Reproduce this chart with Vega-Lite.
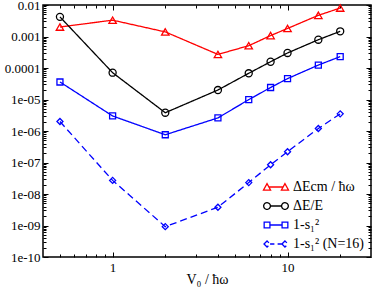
{
  "$schema": "https://vega.github.io/schema/vega-lite/v6.json",
  "width": 328,
  "height": 252,
  "autosize": {"type": "none"},
  "padding": {"left": 43, "top": 5, "right": 3, "bottom": 34},
  "config": {
    "font": "Liberation Serif",
    "view": {"stroke": "black", "strokeWidth": 1.5},
    "axis": {
      "domain": false, "grid": false, "ticks": true, "tickColor": "black", "tickWidth": 1,
      "labelFont": "Liberation Serif", "labelFontSize": 13, "labelColor": "black",
      "titleFont": "Liberation Serif", "titleFontSize": 14, "titleFontWeight": "normal", "titleColor": "black",
      "labelOverlap": false, "labelFlush": false, "labelBound": false
    },
    "legend": {
      "labelFont": "Liberation Serif", "labelFontSize": 14, "labelColor": "black",
      "symbolSize": 256, "symbolStrokeWidth": 1.3, "rowPadding": 3, "labelOffset": 8,
      "padding": 0
    }
  },
  "data": {"values": [
    {"x": 0.5, "y": 2.0e-3, "s": "ΔEcm / ħω"},
    {"x": 1, "y": 3.3e-3, "s": "ΔEcm / ħω"},
    {"x": 2, "y": 1.4e-3, "s": "ΔEcm / ħω"},
    {"x": 4, "y": 2.7e-4, "s": "ΔEcm / ħω"},
    {"x": 6, "y": 5.1e-4, "s": "ΔEcm / ħω"},
    {"x": 8, "y": 1.07e-3, "s": "ΔEcm / ħω"},
    {"x": 10, "y": 1.8e-3, "s": "ΔEcm / ħω"},
    {"x": 15, "y": 4.7e-3, "s": "ΔEcm / ħω"},
    {"x": 20, "y": 8.0e-3, "s": "ΔEcm / ħω"},
    {"x": 0.5, "y": 4.2e-3, "s": "ΔE/E"},
    {"x": 1, "y": 7.1e-5, "s": "ΔE/E"},
    {"x": 2, "y": 3.8e-6, "s": "ΔE/E"},
    {"x": 4, "y": 2.0e-5, "s": "ΔE/E"},
    {"x": 6, "y": 6.8e-5, "s": "ΔE/E"},
    {"x": 8, "y": 1.58e-4, "s": "ΔE/E"},
    {"x": 10, "y": 3.0e-4, "s": "ΔE/E"},
    {"x": 15, "y": 7.9e-4, "s": "ΔE/E"},
    {"x": 20, "y": 1.46e-3, "s": "ΔE/E"},
    {"x": 0.5, "y": 3.6e-5, "s": "1-s₁²"},
    {"x": 1, "y": 3.0e-6, "s": "1-s₁²"},
    {"x": 2, "y": 7.6e-7, "s": "1-s₁²"},
    {"x": 4, "y": 2.6e-6, "s": "1-s₁²"},
    {"x": 6, "y": 9.9e-6, "s": "1-s₁²"},
    {"x": 8, "y": 2.4e-5, "s": "1-s₁²"},
    {"x": 10, "y": 4.6e-5, "s": "1-s₁²"},
    {"x": 15, "y": 1.24e-4, "s": "1-s₁²"},
    {"x": 20, "y": 2.3e-4, "s": "1-s₁²"},
    {"x": 0.5, "y": 2.0e-6, "s": "1-s₁² (N=16)"},
    {"x": 1, "y": 2.7e-8, "s": "1-s₁² (N=16)"},
    {"x": 2, "y": 9.2e-10, "s": "1-s₁² (N=16)"},
    {"x": 4, "y": 3.8e-9, "s": "1-s₁² (N=16)"},
    {"x": 6, "y": 2.3e-8, "s": "1-s₁² (N=16)"},
    {"x": 8, "y": 8.5e-8, "s": "1-s₁² (N=16)"},
    {"x": 10, "y": 2.2e-7, "s": "1-s₁² (N=16)"},
    {"x": 15, "y": 1.2e-6, "s": "1-s₁² (N=16)"},
    {"x": 20, "y": 3.5e-6, "s": "1-s₁² (N=16)"}
  ]},
  "layer": [
    {
      "mark": {"type": "line", "strokeWidth": 1.3},
      "encoding": {
        "x": {"field": "x", "type": "quantitative", "scale": {"type": "log", "domain": [0.4, 30], "nice": false},
          "axis": {"orient": "bottom", "title": "V₀ / ħω", "titlePadding": -2,
            "values": [1, 10], "format": "d",
            "domain": false, "grid": false, "ticks": true, "tickColor": "black", "tickWidth": 1, "tickOpacity": 1,
            "tickSize": -5, "labelPadding": 9}},
        "y": {"field": "y", "type": "quantitative", "scale": {"type": "log", "domain": [1e-10, 0.01], "nice": false},
          "axis": {"orient": "left", "title": null,
            "values": [1e-10,1e-9,1e-8,1e-7,1e-6,1e-5,1e-4,1e-3,0.01],
            "labelExpr": "datum.value == 0.01 ? '0.01' : datum.value == 0.001 ? '0.001' : datum.value == 0.0001 ? '0.0001' : datum.value == 1e-5 ? '1e-05' : datum.value == 1e-6 ? '1e-06' : datum.value == 1e-7 ? '1e-07' : datum.value == 1e-8 ? '1e-08' : datum.value == 1e-9 ? '1e-09' : '1e-10'",
            "domain": false, "grid": false, "ticks": true, "tickColor": "black", "tickWidth": 1, "tickOpacity": 1,
            "tickSize": -5, "labelPadding": 8}},
        "color": {"field": "s", "type": "nominal",
          "scale": {"domain": ["ΔEcm / ħω", "ΔE/E", "1-s₁²", "1-s₁² (N=16)"], "range": ["#ff0000", "#000000", "#0000ff", "#0000ff"]}},
        "strokeDash": {"field": "s", "type": "nominal", "legend": null,
          "scale": {"domain": ["ΔEcm / ħω", "ΔE/E", "1-s₁²", "1-s₁² (N=16)"], "range": [[1,0],[1,0],[1,0],[7,4]]}}
      }
    },
    {
      "transform": [{"filter": "datum.s == 'ΔEcm / ħω'"}],
      "mark": {"type": "point", "shape": "triangle-up", "filled": false, "size": 55, "strokeWidth": 1.3, "opacity": 1},
      "encoding": {
        "x": {"field": "x", "type": "quantitative",
          "axis": {"orient": "top", "title": null, "labels": false, "values": [1, 10],
            "domain": false, "grid": false, "ticks": true, "tickColor": "black", "tickWidth": 1, "tickOpacity": 1, "tickSize": -5}},
        "y": {"field": "y", "type": "quantitative",
          "axis": {"orient": "right", "title": null, "labels": false,
            "values": [1e-10,1e-9,1e-8,1e-7,1e-6,1e-5,1e-4,1e-3,0.01],
            "domain": false, "grid": false, "ticks": true, "tickColor": "black", "tickWidth": 1, "tickOpacity": 1, "tickSize": -5}},
        "color": {"field": "s", "type": "nominal"}
      }
    },
    {
      "transform": [{"filter": "datum.s == 'ΔE/E'"}],
      "mark": {"type": "point", "shape": "circle", "filled": false, "size": 50, "strokeWidth": 1.3, "opacity": 1},
      "encoding": {
        "x": {"field": "x", "type": "quantitative",
          "axis": {"orient": "bottom", "title": null, "labels": false,
            "values": [0.5,0.6,0.7,0.8,0.9,2,3,4,5,6,7,8,9,20],
            "domain": false, "grid": false, "ticks": true, "tickColor": "black", "tickWidth": 1, "tickOpacity": 1, "tickSize": -3}},
        "y": {"field": "y", "type": "quantitative",
          "axis": {"orient": "left", "title": null, "labels": false,
            "values": [2e-10,3e-10,4e-10,5e-10,6e-10,7e-10,8e-10,9e-10,2e-9,3e-9,4e-9,5e-9,6e-9,7e-9,8e-9,9e-9,2e-8,3e-8,4e-8,5e-8,6e-8,7e-8,8e-8,9e-8,2e-7,3e-7,4e-7,5e-7,6e-7,7e-7,8e-7,9e-7,2e-6,3e-6,4e-6,5e-6,6e-6,7e-6,8e-6,9e-6,2e-5,3e-5,4e-5,5e-5,6e-5,7e-5,8e-5,9e-5,2e-4,3e-4,4e-4,5e-4,6e-4,7e-4,8e-4,9e-4,2e-3,3e-3,4e-3,5e-3,6e-3,7e-3,8e-3,9e-3],
            "domain": false, "grid": false, "ticks": true, "tickColor": "black", "tickWidth": 1, "tickOpacity": 1, "tickSize": -3}},
        "color": {"field": "s", "type": "nominal"}
      }
    },
    {
      "transform": [{"filter": "datum.s == '1-s₁²'"}],
      "mark": {"type": "point", "shape": "square", "filled": false, "size": 36, "strokeWidth": 1.3, "opacity": 1},
      "encoding": {
        "x": {"field": "x", "type": "quantitative",
          "axis": {"orient": "top", "title": null, "labels": false,
            "values": [0.5,0.6,0.7,0.8,0.9,2,3,4,5,6,7,8,9,20],
            "domain": false, "grid": false, "ticks": true, "tickColor": "black", "tickWidth": 1, "tickOpacity": 1, "tickSize": -3}},
        "y": {"field": "y", "type": "quantitative",
          "axis": {"orient": "right", "title": null, "labels": false,
            "values": [2e-10,3e-10,4e-10,5e-10,6e-10,7e-10,8e-10,9e-10,2e-9,3e-9,4e-9,5e-9,6e-9,7e-9,8e-9,9e-9,2e-8,3e-8,4e-8,5e-8,6e-8,7e-8,8e-8,9e-8,2e-7,3e-7,4e-7,5e-7,6e-7,7e-7,8e-7,9e-7,2e-6,3e-6,4e-6,5e-6,6e-6,7e-6,8e-6,9e-6,2e-5,3e-5,4e-5,5e-5,6e-5,7e-5,8e-5,9e-5,2e-4,3e-4,4e-4,5e-4,6e-4,7e-4,8e-4,9e-4,2e-3,3e-3,4e-3,5e-3,6e-3,7e-3,8e-3,9e-3],
            "domain": false, "grid": false, "ticks": true, "tickColor": "black", "tickWidth": 1, "tickOpacity": 1, "tickSize": -3}},
        "color": {"field": "s", "type": "nominal"}
      }
    },
    {
      "transform": [{"filter": "datum.s == '1-s₁² (N=16)'"}],
      "mark": {"type": "point", "shape": "diamond", "filled": false, "size": 36, "strokeWidth": 1.3, "opacity": 1},
      "encoding": {
        "x": {"field": "x", "type": "quantitative", "axis": null},
        "y": {"field": "y", "type": "quantitative", "axis": null},
        "color": {"field": "s", "type": "nominal"}
      }
    },
    {
      "transform": [{"filter": "datum.s == 'none'"}],
      "mark": {"type": "point", "filled": false, "strokeWidth": 1.3, "opacity": 1},
      "encoding": {
        "x": {"field": "x", "type": "quantitative", "axis": null},
        "y": {"field": "y", "type": "quantitative", "axis": null},
        "color": {"field": "s", "type": "nominal",
          "legend": {"title": null, "orient": "bottom-right", "offset": 6}},
        "shape": {"field": "s", "type": "nominal",
          "legend": {"title": null, "orient": "bottom-right", "offset": 6},
          "scale": {"domain": ["ΔEcm / ħω", "ΔE/E", "1-s₁²", "1-s₁² (N=16)"],
            "range": [
              "M-1.56,0.38L-1.12,-0.42L-0.68,0.38Z M0.68,0.38L1.12,-0.42L1.56,0.38Z M-0.89,0H0.89",
              "M-1.54,0A0.42,0.42 0 1 1 -0.7,0A0.42,0.42 0 1 1 -1.54,0Z M0.7,0A0.42,0.42 0 1 1 1.54,0A0.42,0.42 0 1 1 0.7,0Z M-0.7,0H0.7",
              "M-1.48,-0.36H-0.76V0.36H-1.48Z M0.76,-0.36H1.48V0.36H0.76Z M-0.76,0H0.76",
              "M-1.5,0L-1.12,-0.38L-0.74,0L-1.12,0.38Z M0.74,0L1.12,-0.38L1.5,0L1.12,0.38Z M-0.74,0H-0.2 M0.2,0H0.74"
            ]}}
      }
    }
  ],
  "resolve": {"axis": {"x": "independent", "y": "independent"}}
}
